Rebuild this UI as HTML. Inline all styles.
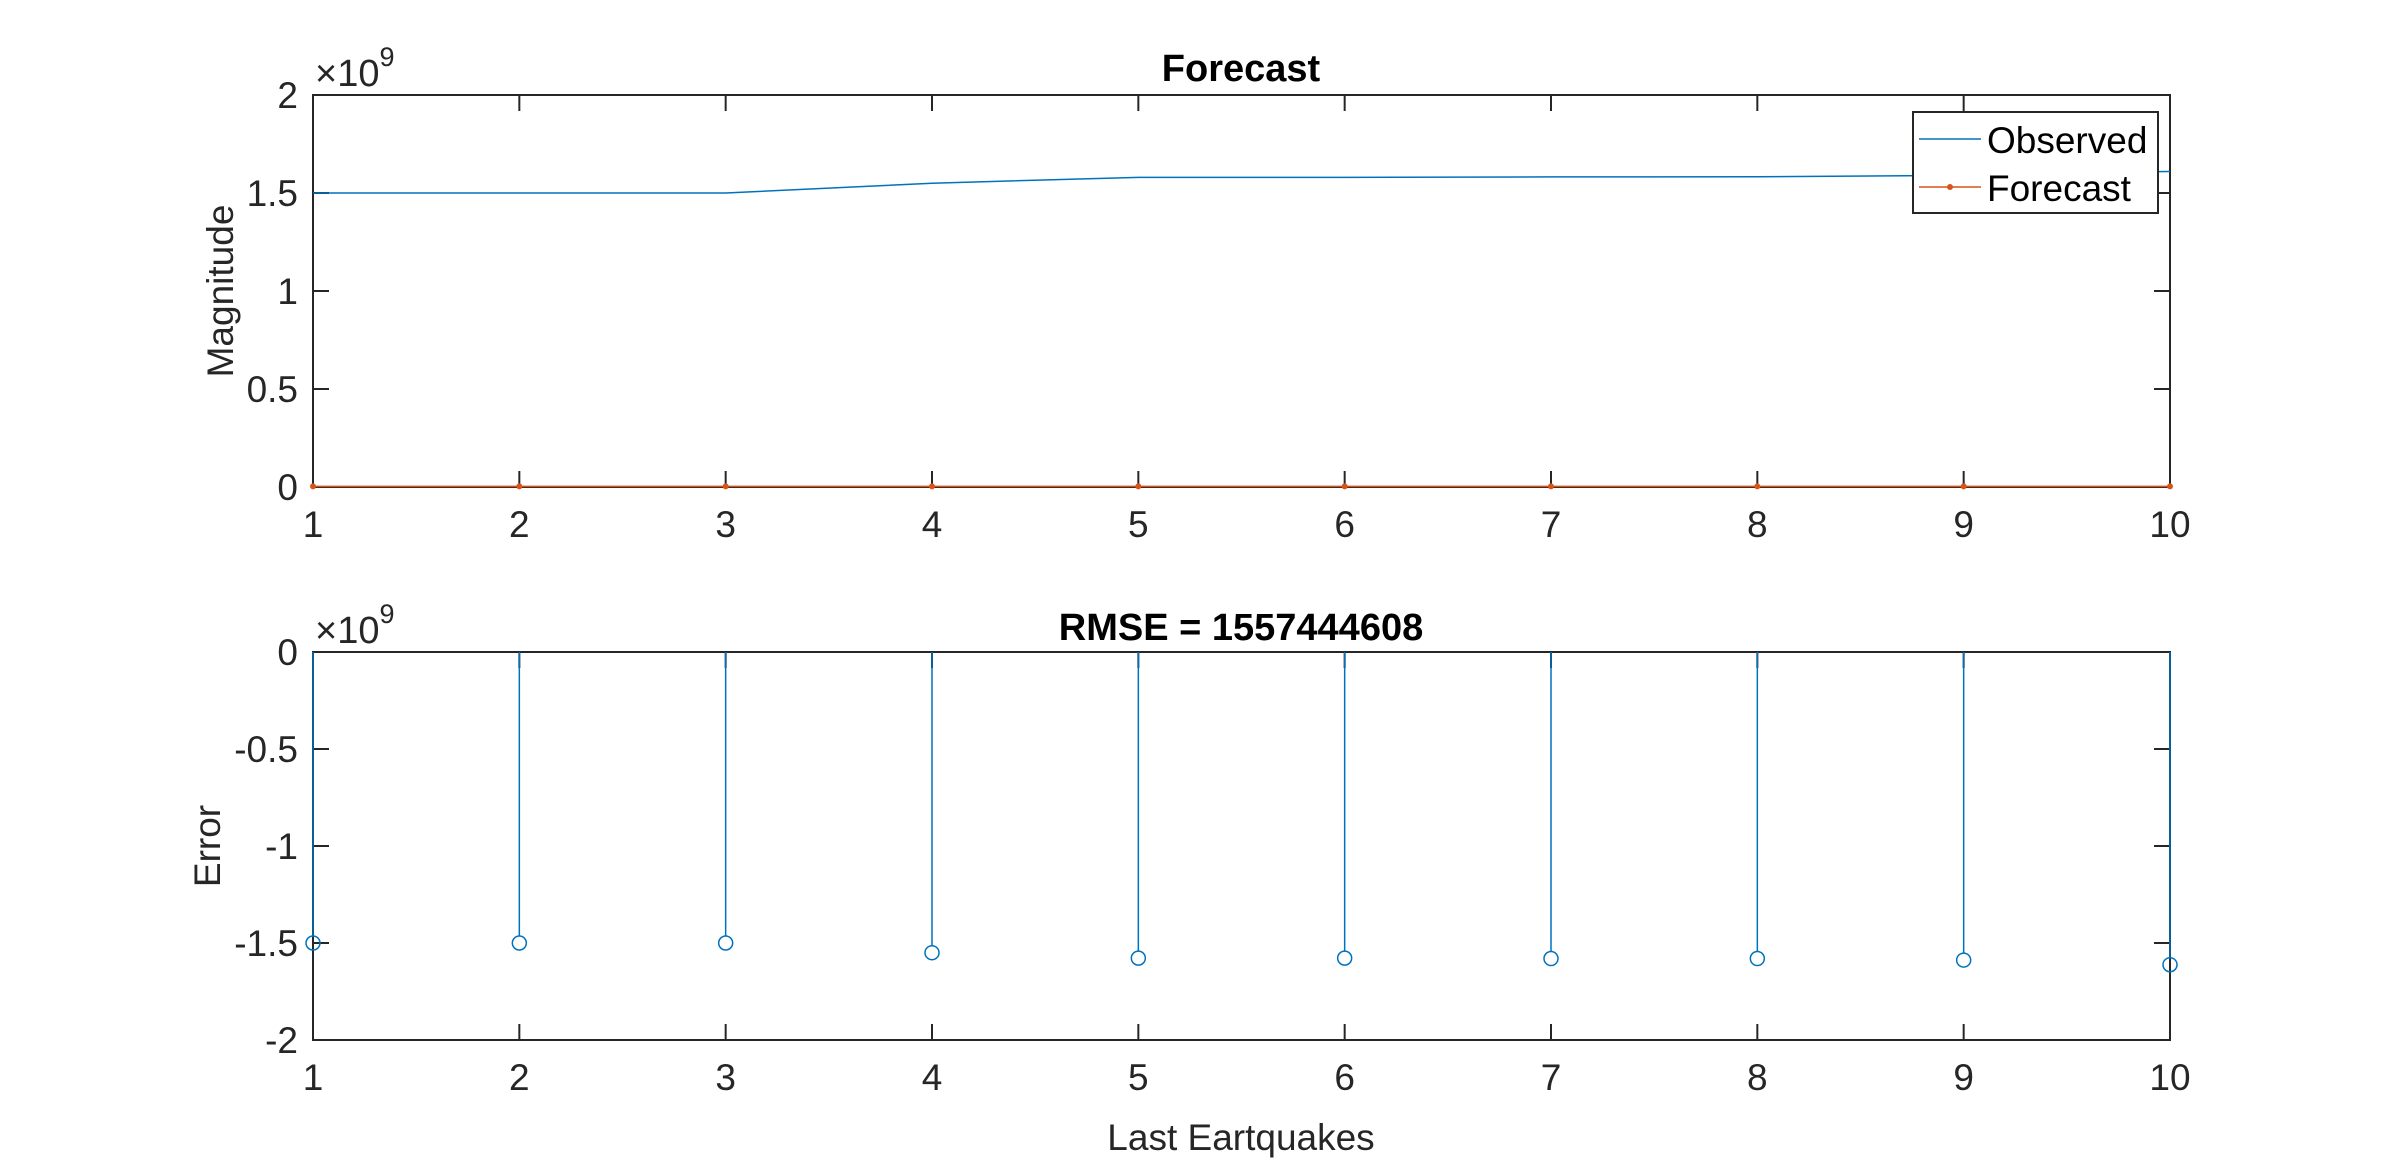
<!DOCTYPE html>
<html><head><meta charset="utf-8"><style>
body{margin:0;background:#fff;}
svg{display:block;font-family:"Liberation Sans",Arial,sans-serif;}
</style></head><body>
<svg id="c" width="2400" height="1170" xmlns="http://www.w3.org/2000/svg"></svg>
<script>
const xCats=[1,2,3,4,5,6,7,8,9,10];
const observed=[1.5,1.5,1.5,1.55,1.58,1.58,1.582,1.583,1.59,1.61];
const forecast=[0.003,0.003,0.003,0.003,0.003,0.003,0.003,0.003,0.003,0.003];
const errors=[-1.5,-1.5,-1.5,-1.55,-1.578,-1.578,-1.58,-1.58,-1.588,-1.612];
const topTicks=[0,0.5,1,1.5,2];
const topTickLabels=["0","0.5","1","1.5","2"];
const botTicks=[-2,-1.5,-1,-0.5,0];
const botTickLabels=["-2","-1.5","-1","-0.5","0"];
const NS="http://www.w3.org/2000/svg";
const svg=document.getElementById('c');
function el(t,a,p){const e=document.createElementNS(NS,t);for(const k in a)e.setAttribute(k,a[k]);(p||svg).appendChild(e);return e;}
const L=313,R=2170;
const xs=v=>L+(v-1)*(R-L)/9;
function axes(T,B,ymin,ymax,ticks,labels,name){
  const ys=v=>B-(v-ymin)*(B-T)/(ymax-ymin);
  const g=el('g',{});
  
  
  const f=el('rect',{x:L,y:T,width:R-L,height:B-T,fill:'none',stroke:'#262626','stroke-width':2},g);
  
  
  xCats.forEach(v=>{
    const x=xs(v);
    el('line',{x1:x,y1:B,x2:x,y2:B-16,stroke:'#262626','stroke-width':2},g);
    el('line',{x1:x,y1:T,x2:x,y2:T+16,stroke:'#262626','stroke-width':2},g);
    const t=el('text',{x:x,y:B+50,'font-size':37,'text-anchor':'middle',fill:'#262626'},g);
    t.textContent=v;
    
    
  });
  ticks.forEach((v,i)=>{
    const y=ys(v);
    el('line',{x1:L,y1:y,x2:L+16,y2:y,stroke:'#262626','stroke-width':2},g);
    el('line',{x1:R,y1:y,x2:R-16,y2:y,stroke:'#262626','stroke-width':2},g);
    const t=el('text',{x:L-15,y:y+13,'font-size':37,'text-anchor':'end',fill:'#262626'},g);
    t.textContent=labels[i];
    
    
  });
  const m=el('text',{x:315,y:T-9,'font-size':38,fill:'#262626'},g);
  m.innerHTML='×10<tspan dy="-20" font-size="27">9</tspan>';
  
  
  return ys;
}
// top
const ys1=axes(95,487,0,2,topTicks,topTickLabels,'forecast-axes');
let d='';observed.forEach((v,i)=>{d+=(i?'L':'M')+xs(xCats[i])+','+ys1(v);});
const p1=el('path',{d:d,fill:'none',stroke:'#0072BD','stroke-width':1.5});


d='';forecast.forEach((v,i)=>{d+=(i?'L':'M')+xs(xCats[i])+','+ys1(v);});
const p2=el('path',{d:d,fill:'none',stroke:'#D95319','stroke-width':1.5});


forecast.forEach((v,i)=>{const c=el('circle',{cx:xs(xCats[i]),cy:ys1(v),r:3,fill:'#D95319'});

});
let t=el('text',{x:1241,y:81,'font-size':38,'font-weight':'bold','text-anchor':'middle',fill:'#000'});
t.textContent='Forecast';
t=el('text',{x:0,y:0,'font-size':37,'text-anchor':'middle',fill:'#262626',transform:'translate(233,291) rotate(-90)'});
t.textContent='Magnitude';
// legend
const lg=el('g',{});


el('rect',{x:1913,y:112,width:245,height:101,fill:'#fff',stroke:'#262626','stroke-width':2},lg);
el('line',{x1:1919,y1:139,x2:1981,y2:139,stroke:'#0072BD','stroke-width':1.5},lg);
el('line',{x1:1919,y1:187,x2:1981,y2:187,stroke:'#D95319','stroke-width':1.5},lg);
el('circle',{cx:1950,cy:187,r:3,fill:'#D95319'},lg);
t=el('text',{x:1987,y:153,'font-size':37,fill:'#000'},lg);t.textContent='Observed';

t=el('text',{x:1987,y:201,'font-size':37,fill:'#000'},lg);t.textContent='Forecast';

// bottom
const ys2=axes(652,1040,-2,0,botTicks,botTickLabels,'error-axes');
errors.forEach((v,i)=>{
  const x=xs(xCats[i]);
  const s=el('line',{x1:x,y1:ys2(0),x2:x,y2:ys2(v)-7,stroke:'#0072BD','stroke-width':1.5});
  
  
  const c=el('circle',{cx:x,cy:ys2(v),r:7,fill:'none',stroke:'#0072BD','stroke-width':1.5});
  
  
});
t=el('text',{x:1241,y:640,'font-size':38,'font-weight':'bold','text-anchor':'middle',fill:'#000'});
t.textContent='RMSE = 1557444608';
t=el('text',{x:0,y:0,'font-size':37,'text-anchor':'middle',fill:'#262626',transform:'translate(220,846) rotate(-90)'});
t.textContent='Error';
t=el('text',{x:1241,y:1150,'font-size':37,'text-anchor':'middle',fill:'#262626'});
t.textContent='Last Eartquakes';
</script>
</body></html>
